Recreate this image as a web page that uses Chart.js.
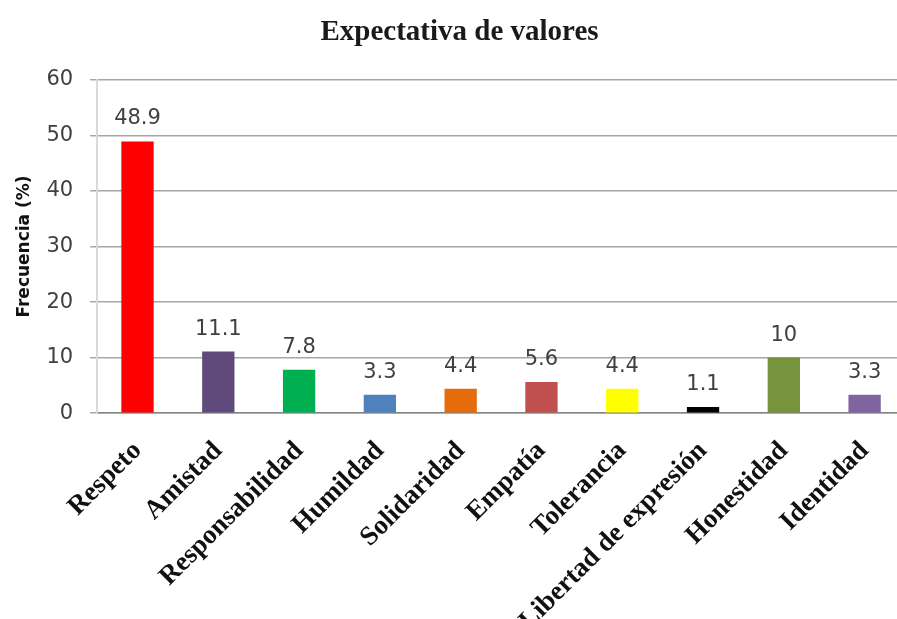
<!DOCTYPE html>
<html>
<head>
<meta charset="utf-8">
<script src="https://cdn.jsdelivr.net/npm/chart.js@4/dist/chart.umd.min.js"></script>
<style>
    html, body { margin: 0; padding: 0; background: #fff; overflow: hidden; }
    #wrap { width: 897px; height: 619px; overflow: hidden; position: relative; }
    canvas { position: absolute; left: 0; top: 0; }
</style>
</head>
<body>
<div id="wrap">
    <canvas id="valoresChart" width="905" height="651"></canvas>
</div>
<script>
// data
const categories = ["Respeto", "Amistad", "Responsabilidad", "Humildad", "Solidaridad",
    "Empatía", "Tolerancia", "Libertad de expresión", "Honestidad", "Identidad"];
const frecuencia = [48.9, 11.1, 7.8, 3.3, 4.4, 5.6, 4.4, 1.1, 10, 3.3];
const barColors = ["#FF0000", "#604A7B", "#00B050", "#4F81BD", "#E46C0A",
    "#C0504D", "#FFFF00", "#000000", "#77933C", "#8064A2"];
const yTicks = [0, 10, 20, 30, 40, 50, 60];

// value labels above the bars
const valueLabels = {
    id: "valueLabels",
    afterDatasetsDraw(chart) {
        const ctx = chart.ctx;
        const meta = chart.getDatasetMeta(0);
        ctx.save();
        ctx.font = "21px 'DejaVu Sans'";
        ctx.fillStyle = "#404040";
        ctx.textAlign = "center";
        ctx.textBaseline = "alphabetic";
        meta.data.forEach((bar, i) => {
            ctx.fillText(String(frecuencia[i]), bar.x, bar.y - 17);
        });
        ctx.restore();
    }
};

new Chart(document.getElementById("valoresChart"), {
    type: "bar",
    data: {
        labels: categories,
        datasets: [{
            label: "Frecuencia (%)",
            data: frecuencia,
            backgroundColor: barColors,
            barPercentage: 0.4,
            categoryPercentage: 1
        }]
    },
    options: {
        responsive: false,
        animation: false,
        devicePixelRatio: 1,
        layout: { padding: { left: 14, right: 0, top: 0, bottom: 0 } },
        plugins: {
            legend: { display: false },
            tooltip: { enabled: false },
            title: {
                display: true,
                text: "Expectativa de valores",
                color: "#1a1a1a",
                font: { family: "'Liberation Serif'", size: 29, weight: "bold" },
                padding: { top: 15, bottom: 30 }
            }
        },
        scales: {
            x: {
                grid: { display: false },
                border: { display: true, color: "#868686", width: 1.5 },
                ticks: {
                    autoSkip: false,
                    maxRotation: 45,
                    minRotation: 45,
                    padding: 14,
                    color: "#111",
                    font: { family: "'Liberation Serif'", size: 27, weight: "bold" }
                }
            },
            y: {
                min: 0,
                max: 60,
                afterBuildTicks(axis) {
                    axis.ticks = yTicks.map(v => ({ value: v }));
                },
                grid: { color: "#a6a6a6", lineWidth: 1.5, tickLength: 7 },
                border: { display: true, color: "#d9d9d9", width: 2 },
                ticks: {
                    padding: 17,
                    color: "#404040",
                    font: { family: "'DejaVu Sans'", size: 21 }
                },
                title: {
                    display: true,
                    text: "Frecuencia (%)",
                    color: "#111",
                    padding: { top: 0, bottom: -5 },
                    font: { family: "'DejaVu Sans'", size: 17, weight: "bold" }
                }
            }
        }
    },
    plugins: [valueLabels]
});
</script>
</body>
</html>
